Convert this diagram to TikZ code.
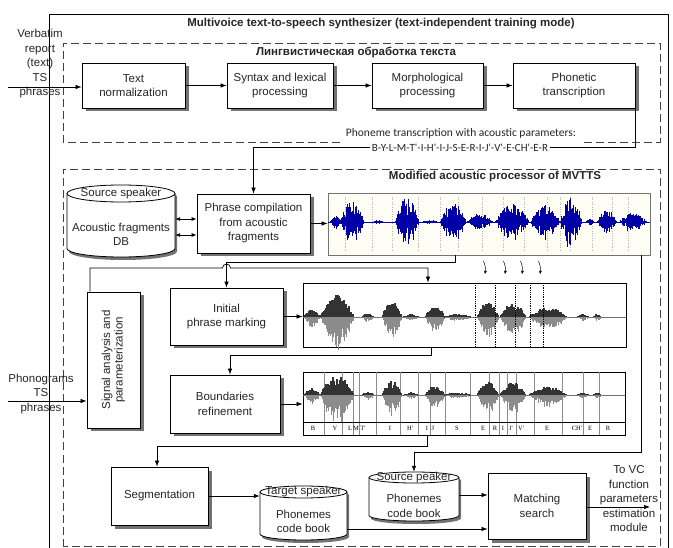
\documentclass[tikz,border=0pt]{standalone}
\usepackage{fontspec}
\setmainfont{Liberation Sans}
\newfontfamily\calfont{Carlito}
\newfontfamily\serfont{Liberation Serif}
\usetikzlibrary{arrows.meta,shadows}
\newcommand{\graywave}[3]{%
  \draw[black!55,line width=0.6pt] (303,#1) -- (#3,#1);
  \foreach \bc/\bw/\ba in {312/8/8,337/17/23,368/6/4,392/10/17,411/8/3,435/10/12,458/14/3,488/11/16,513/13/15,548/19/10,583/6/3,597/4/3}{%
    \pgfmathtruncatemacro\n{2*\bw}%
    \foreach \j in {0,...,\n}{%
      \pgfmathsetmacro\h{#2*\ba*(1-((\j-\bw)/\bw)^2)*(0.5+0.5*rnd)}%
      \pgfmathsetmacro\d{\h*(1.1+0.4*rnd)}%
      \draw[black!80,line width=1.1pt] (\bc+\j-\bw,#1) -- ++(0,-\h);
      \draw[black!45,line width=0.8pt] (\bc+\j-\bw,#1) -- ++(0,\d);
    }}}
\newcommand{\drum}[5]{%
  \pgfmathsetmacro\rx{(#2-#1)/2}%
  \fill[black!55] (#1+2,#3+#5+3) -- (#1+2,#4-#5+3) arc[start angle=180,end angle=360,x radius=\rx pt,y radius=#5pt] -- (#2+2,#3+#5+3) arc[start angle=0,end angle=180,x radius=\rx pt,y radius=#5pt] -- cycle;
  \draw[fill=white,line width=0.8pt] (#1,#3+#5) -- (#1,#4-#5) arc[start angle=180,end angle=360,x radius=\rx pt,y radius=#5pt] -- (#2,#3+#5) arc[start angle=0,end angle=180,x radius=\rx pt,y radius=#5pt] -- cycle;
  \draw[line width=0.8pt] (#1,#3+#5) arc[start angle=180,end angle=360,x radius=\rx pt,y radius=#5pt];}
\tikzset{
  blk/.style={draw,line width=0.8pt,fill=white,align=center,text=black!85,font=\fontsize{11.5}{14.5}\selectfont,drop shadow={shadow xshift=3.5pt,shadow yshift=-3.5pt,fill=black!55,opacity=1}},
  lbl/.style={align=center,text=black!85,font=\fontsize{11.5}{14.5}\selectfont,inner sep=0pt},
  hdr/.style={text=black!85,font=\fontsize{11.5}{14}\selectfont\bfseries,inner sep=0pt},
  arr/.style={-{Latex[length=6pt,width=4.5pt]},line width=0.7pt},
  dbl/.style={{Latex[length=5pt,width=4pt]}-{Latex[length=5pt,width=4pt]},line width=0.7pt},
  grp/.style={draw=black!75,line width=0.8pt,dash pattern=on 8pt off 4pt},
  wbox/.style={draw,line width=0.8pt,inner sep=0pt},
}

\begin{document}
\begin{tikzpicture}[x=1pt,y=-1pt]
\pgfmathsetseed{3}
\useasboundingbox (0,0) rectangle (673,548);
\draw[line width=0.9pt] (49,548) -- (49,14) -- (668,14) -- (668,548);
\node[hdr] (title) at (381,24) {Multivoice text-to-speech synthesizer (text-independent training mode)};
\draw[grp] (340,142) -- (63,142) -- (63,43) -- (660,43) -- (660,142) -- (582,142);
\node[hdr] (lingtitle) at (356,52) {Лингвистическая обработка текста};
\draw[grp] (63,546.5) -- (63,169) -- (660,169) -- (660,546.5) -- cycle;
\node[hdr] (mvtitle) at (495,177) {Modified acoustic processor of MVTTS};
\node[blk,minimum width=103,minimum height=45] (norm) at (133.5,85.5) {Text\\normalization};
\node[blk,minimum width=106,minimum height=45] (syntax) at (280,85.5) {Syntax and lexical\\processing};
\node[blk,minimum width=111,minimum height=45] (morph) at (427.5,85.5) {Morphological\\processing};
\node[blk,minimum width=122,minimum height=45] (phon) at (574,85.5) {Phonetic\\transcription};
\node[lbl] (verb) at (40,64) {Verbatim\\report\\(text)\\TS\\phrases};
\coordinate (in1) at (8,87);
\draw[arr] (in1) -- (in1 -| norm.west);
\draw[arr] (norm) -- (syntax);
\draw[arr] (syntax) -- (morph);
\draw[arr] (morph) -- (phon);
\node[minimum width=108,minimum height=72,inner sep=0] (srcdb) at (121,221) {};
\drum{67}{175}{185}{257}{8.5}
\node[lbl] (srcspk) at (121,194) {Source speaker};
\node[lbl] (srcdbt) at (121,234.5) {Acoustic fragments\\DB};
\node[blk,minimum width=113,minimum height=59] (compile) at (253.5,223.5) {Phrase compilation\\from acoustic\\fragments};
\draw[arr] (phon.south east) -- (phon.south east |- 0,147) -| (compile.north);
\node[font=\calfont\fontsize{11.5}{13}\selectfont,text=black!85,inner sep=1pt] (phcap) at (461,133) {Phoneme transcription with acoustic parameters:};
\node[font=\calfont\fontsize{11}{12}\selectfont,text=black!85,fill=white,inner sep=1.5pt] (phseq) at (460,148) {B-Y-L-M-T'-I-H'-I-J-S-E-R-I-J'-V'-E-CH'-E-R};
\draw[dbl] (srcdb.east |- 0,219) -- (compile.west |- 0,219);
\draw[dbl] (srcdb.east |- 0,235) -- (compile.west |- 0,235);
\node[wbox,draw=black!55,fill=yellow!4,minimum width=322,minimum height=62] (wave1) at (489,224) {};
\foreach \x in {345,372,392,418,440,458,482,503,524,547,560,570,592,612,628} \draw[black!30,dotted] (\x,197) -- (\x,252);
\draw[blue!70!black,line width=0.5pt] (328,222) -- (650,222);
\foreach \bc/\bw/\ba in {336/6/6,352/12/22,378/5/2,407/12/25,430/8/2,453/13/20,480/13/9,512/17/18,545/15/17,571/11/26,590/5/3,607/10/12,633/14/10}{
  \pgfmathtruncatemacro\n{4*\bw}
  \foreach \j in {0,...,\n}{
    \pgfmathsetmacro\h{\ba*(1-((\j/2-\bw)/\bw)^2)*(0.2+0.8*rnd)}
    \pgfmathsetmacro\d{\h*(1.5+0.7*rnd)}
    \draw[blue!65!black,line width=0.4pt] (\bc+\j/2-\bw,222-\h) -- ++(0,\d);
  }}
\draw[arr] (compile.east) -- (compile.east -| wave1.west);
\node[blk,minimum width=53,minimum height=136] (sigan) at (113.5,360) {\rotatebox{90}{\begin{tabular}{@{}c@{}}Signal analysis and\\[-2pt]parameterization\end{tabular}}};
\node[lbl] (phono) at (41,394) {Phonograms\\TS\\phrases};
\coordinate (in2) at (8,401);
\draw[arr] (in2) -- (in2 -| sigan.west);
\node[blk,minimum width=113,minimum height=57] (initial) at (226.5,316.5) {Initial\\phrase marking};
\node[wbox,minimum width=323,minimum height=64] (wave2) at (464.5,315) {};
\graywave{317}{1}{626}
\foreach \x in {475,495,515,530,543} \draw[densely dotted,line width=0.8pt] (\x,283) -- (\x,347);
\foreach \x in {485,505,522,540} \draw[-{Stealth[length=3.5pt,width=3pt]},line width=0.5pt] (\x-1.5,261) to[bend left=15] (\x,274);
\draw[arr] (wave1.south -| 455,0) -- ++(0,7) -| (initial.north);
\draw[arr] (sigan.north -| 90,0) |- (222.5,268) arc[start angle=180,end angle=0,radius=4pt] -- (428,268) -- (wave2.north -| 428,0);
\draw[arr] (initial) -- (initial -| wave2.west);
\node[blk,minimum width=110,minimum height=58] (bound) at (225,404) {Boundaries\\refinement};
\node[wbox,minimum width=322,minimum height=63] (wave3) at (464,403.5) {};
\foreach \x in {324,342.5,353,359.5,376.5,400,418.5,430,445,470,489,499,507,516,534,562,583.5,599} \draw[black!45,line width=0.4pt] (\x,372) -- (\x,435);
\draw[line width=0.6pt] (303,422) -- (625,422);
\graywave{395}{0.85}{625}
\foreach \x/\p [count=\k] in {313/B,335/Y,350/L,356/M,363/T',390/I,410/H',427/I,433/J,457/S,483/E,495/R,503/I,511/J',521/V',547/E,577/CH',590/E,608/R} \node[font=\serfont\fontsize{6.5}{7}\selectfont,inner sep=0pt] (seg\k) at (\x,428.5) {\p};
\draw[arr] (wave2.south -| 431,0) -- ++(0,8) -| (bound.north -| 230,0);
\draw[arr] (bound) -- (bound -| wave3.west);
\node[blk,minimum width=97,minimum height=58] (segm) at (159.5,496) {Segmentation};
\draw[arr] (wave3.south -| 427,0) -- ++(0,11) -| (segm.north -| 157,0);
\node[minimum width=87,minimum height=54,inner sep=0] (tgtcb) at (303.5,513) {};
\drum{260}{347}{486}{540}{6}
\node[lbl] (tgtspk) at (303.5,492) {Target speaker};
\node[lbl] (tgtcbt) at (303.5,521.5) {Phonemes\\code book};
\draw[arr] (segm) -- (segm -| tgtcb.west);
\node[minimum width=90,minimum height=49,inner sep=0] (srccb) at (414,496.5) {};
\drum{369}{459}{472}{521}{5.5}
\node[lbl] (srcspk2) at (414,477.5) {Source peaker};
\node[lbl] (srccbt) at (414,506) {Phonemes\\code book};
\draw[arr] (wave1.south -| 641,0) -- ++(0,197) -| (srccb.north);
\node[blk,minimum width=98,minimum height=66] (match) at (537,506) {Matching\\search};
\draw[arr] (srccb.east |- 0,495) -- (match.west |- 0,495);
\draw[arr] (tgtcb.east |- 0,529) -- (match.west |- 0,529);
\coordinate (out) at (650,507);
\draw[arr] (match.east |- out) -- (out);
\node[lbl] (outlbl) at (629,499) {To VC\\function\\parameters\\estimation\\module};
\end{tikzpicture}
\end{document}
